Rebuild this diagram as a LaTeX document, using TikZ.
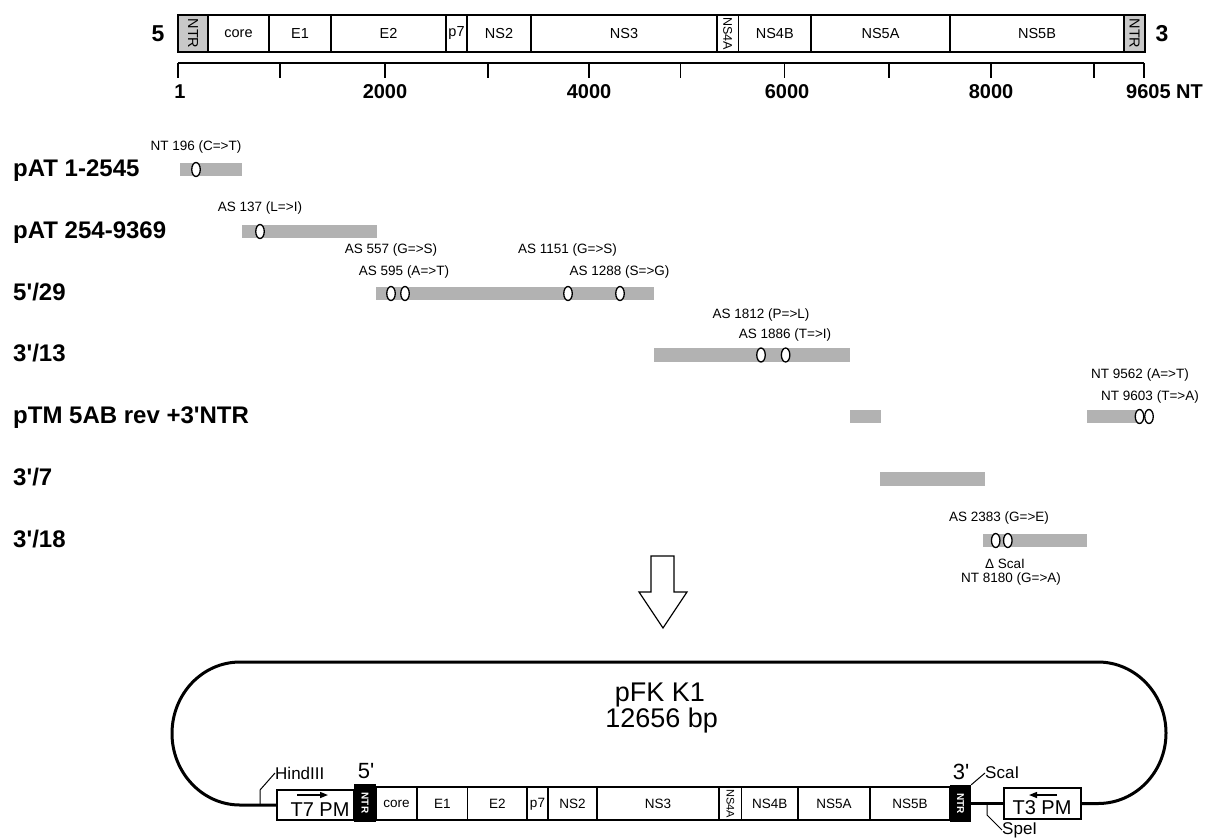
\documentclass[tikz,border=0pt]{standalone}
\usepackage{fontspec}
\setmainfont{Liberation Sans}
\usepackage{tikz}
\usetikzlibrary{arrows.meta,shapes.geometric}
\definecolor{fraggray}{RGB}{178,178,178}
\definecolor{ntrgray}{RGB}{200,200,200}
\newcommand{\apos}{\textquotesingle}

\begin{document}
\begin{tikzpicture}[x=1pt,y=-1pt,
  rowlabel/.style={anchor=base west, font=\fontsize{24}{28}\selectfont\bfseries, inner sep=0pt},
  mut/.style={font=\fontsize{13.5}{16}\selectfont, inner sep=0pt},
  axisnum/.style={font=\fontsize{20}{24}\selectfont\bfseries, inner sep=0pt},
  cell/.style={font=\fontsize{14.5}{17}\selectfont, inner sep=0pt},
  pcell/.style={font=\fontsize{13.5}{16}\selectfont, inner sep=0pt},
  frag/.style={fill=fraggray},
  snp/.style={ellipse, draw, line width=1.3pt, fill=white, minimum width=8.5pt, minimum height=14pt, inner sep=0pt},
  backbone/.style={line width=3pt},
  gbox/.style={line width=1.5pt},
  ntrbox/.style={fill=black, text=white, inner sep=0pt, font=\fontsize{10}{12}\selectfont\bfseries},
  pmbox/.style={draw, line width=1.2pt, minimum width=77pt, minimum height=30pt, inner sep=0pt},
  pmtext/.style={font=\fontsize{20}{24}\selectfont, inner sep=0pt},
  plabel/.style={font=\fontsize{17}{20}\selectfont, inner sep=0pt},
  leader/.style={line width=1pt}]
\useasboundingbox (0,0) rectangle (1215,839);

% genome map
\foreach \a/\b/\t in {208/269/core,269/331/E1,331/446/E2,446/467/p7,467/531/NS2,531/717/NS3,738.5/811/NS4B,811/950/NS5A,950/1124/NS5B}{
  \draw[line width=1.1pt] (\a,15) rectangle (\b,52);
  \node[cell] (g\t) at ({(\a+\b)/2},33.5) {\t};}
\node[draw, line width=1.1pt, fill=ntrgray, minimum width=30pt, minimum height=37pt, inner sep=0pt, font=\fontsize{14.5}{17}\selectfont] (gntr5) at (193,33.5) {\rotatebox{-90}{NTR}};
\node[draw, line width=1.1pt, minimum width=21.5pt, minimum height=37pt, inner sep=0pt, font=\fontsize{12.5}{15}\selectfont] (gns4a) at (727.75,33.5) {\rotatebox{-90}{NS4A}};
\node[draw, line width=1.1pt, fill=ntrgray, minimum width=21pt, minimum height=37pt, inner sep=0pt, font=\fontsize{14.5}{17}\selectfont] (gntr3) at (1134.5,33.5) {\rotatebox{-90}{NTR}};
\node[axisnum, font=\fontsize{23}{27}\selectfont\bfseries] (end5) at (158,33.5) {5};
\node[axisnum, font=\fontsize{23}{27}\selectfont\bfseries] (end3) at (1162,33.5) {3};

% scale
\draw[line width=1.1pt] (178,63) -- (1144,63);
\foreach \x in {178,280,385,488,589,680.5,784.5,889,991,1094,1144}
  \draw[line width=1.1pt] (\x,63) -- (\x,78);
\node[axisnum] (n1) at (180,92) {1};
\node[axisnum] (n2000) at (385,92) {2000};
\node[axisnum] (n4000) at (589,92) {4000};
\node[axisnum] (n6000) at (787,92) {6000};
\node[axisnum] (n8000) at (991,92) {8000};
\node[axisnum, anchor=west] (nend) at (1126,92) {9605 NT};

% fragments
\node[rowlabel] (r1) at (13,176) {pAT 1-2545};
\node[rowlabel] (r2) at (13,238) {pAT 254-9369};
\node[rowlabel] (r3) at (13,300) {5\apos/29};
\node[rowlabel] (r4) at (13,361.5) {3\apos/13};
\node[rowlabel] (r5) at (13,423) {pTM 5AB rev +3\apos NTR};
\node[rowlabel] (r6) at (13,485.5) {3\apos/7};
\node[rowlabel] (r7) at (13,547) {3\apos/18};

\fill[frag] (180,163) rectangle (242,176);
\fill[frag] (241.5,225) rectangle (376.6,238);
\fill[frag] (375.5,287) rectangle (654,300);
\fill[frag] (654,348) rectangle (850,361.5);
\fill[frag] (850,410) rectangle (880.6,423);
\fill[frag] (1086.6,410) rectangle (1140,423);
\fill[frag] (880,472) rectangle (984.7,485.5);
\fill[frag] (983,534) rectangle (1086.6,547);

\node[snp] (m196) at (196,169.5) {};
\node[snp] (m137) at (260,231.5) {};
\node[snp] (m557) at (391,293.5) {};
\node[snp] (m595) at (405,293.5) {};
\node[snp] (m1151) at (568,293.5) {};
\node[snp] (m1288) at (620,293.5) {};
\node[snp] (m1812) at (761,355) {};
\node[snp] (m1886) at (785.6,355) {};
\node[snp] (m9562) at (1139.5,416.5) {};
\node[snp] (m9603) at (1149,416.5) {};
\node[snp] (m2383) at (995.7,540.5) {};
\node[snp] (m8180) at (1007.8,540.5) {};

\node[mut] (l196) at (196,147) {NT 196 (C=>T)};
\node[mut] (l137) at (260,208) {AS 137 (L=>I)};
\node[mut] (l557) at (391,250) {AS 557 (G=>S)};
\node[mut] (l595) at (404,272) {AS 595 (A=>T)};
\node[mut] (l1151) at (567.5,250) {AS 1151 (G=>S)};
\node[mut] (l1288) at (619.5,272) {AS 1288 (S=>G)};
\node[mut] (l1812) at (761,315) {AS 1812 (P=>L)};
\node[mut] (l1886) at (785,335) {AS 1886 (T=>I)};
\node[mut] (l9562) at (1140,375) {NT 9562 (A=>T)};
\node[mut] (l9603) at (1150,397) {NT 9603 (T=>A)};
\node[mut] (l2383) at (999,518) {AS 2383 (G=>E)};
\node[mut] (ldel) at (1005,564) {Δ ScaI};
\node[mut] (l8180) at (1011,579) {NT 8180 (G=>A)};

% assembly arrow
\draw[line width=1.2pt, fill=white] (651,556) -- (674,556) -- (674,592) -- (687,592) -- (663,628) -- (639,592) -- (651,592) -- cycle;

% plasmid
\node[font=\fontsize{27}{31}\selectfont, inner sep=0pt] (pname) at (660,695) {pFK K1};
\node[font=\fontsize{27}{31}\selectfont, inner sep=0pt] (psize) at (661.7,721) {12656 bp};

\node[pmbox] (t7) at (315.5,805) {};
\node[pmbox, minimum height=31pt] (t3) at (1042.5,803.5) {};
\node[pmtext] (t7txt) at (320,810) {T7 PM};
\node[pmtext] (t3txt) at (1042,808) {T3 PM};
\draw[-{Triangle[length=8pt,width=6pt]}, line width=1.4pt] (297,795) -- (328,795);
\draw[-{Triangle[length=8pt,width=6pt]}, line width=1.4pt] (1057,795) -- (1029,795);

\foreach \a/\b/\t in {376/417/core,417/467.7/E1,467.7/527/E2,527/548/p7,548/597/NS2,597/719/NS3,741.7/798/NS4B,798/870/NS5A,870/950/NS5B}{
  \draw[gbox] (\a,787) rectangle (\b,820);
  \node[pcell] (p\t) at ({(\a+\b)/2},804) {\t};}
\node[draw, gbox, minimum width=22.7pt, minimum height=33pt, inner sep=0pt, font=\fontsize{11}{13}\selectfont] (pns4a) at (730.35,803.5) {\rotatebox{-90}{NS4A}};
\node[ntrbox, minimum width=22pt, minimum height=38pt] (ntr5) at (365,803) {\rotatebox{-90}{NTR}};
\node[ntrbox, minimum width=21pt, minimum height=37pt] (ntr3) at (960.5,803.5) {\rotatebox{-90}{NTR}};

\draw[backbone] (t7.west) -- (240,805) .. controls (202.4,805) and (172,772.5) .. (172,733.5)
  .. controls (172,694) and (202.4,662) .. (240,662) -- (1098,662)
  .. controls (1135.6,662) and (1166,694) .. (1166,733)
  .. controls (1166,772) and (1135.6,803.5) .. (1098,803.5) -- (t3.east);
\draw[backbone] (ntr3.east) -- (t3.west);

\node[font=\fontsize{22}{26}\selectfont, inner sep=0pt] (lab5) at (366,771) {5\apos};
\node[font=\fontsize{22}{26}\selectfont, inner sep=0pt] (lab3) at (961,772) {3\apos};

\coordinate (hsite) at (260,805);
\coordinate (ssite) at (987,803.5);
\node[plabel, anchor=west] (hind) at (275,773) {HindIII};
\node[plabel, anchor=west] (scai) at (985,773) {ScaI};
\node[plabel, anchor=west] (spei) at (1002,830) {SpeI};
\draw[leader] (hsite) -- (260,790) -- (hind.west);
\draw[leader] (ntr3.north east) -- (scai.west);
\draw[leader] (ssite) -- (987,815) -- (spei.west);
\end{tikzpicture}
\end{document}
